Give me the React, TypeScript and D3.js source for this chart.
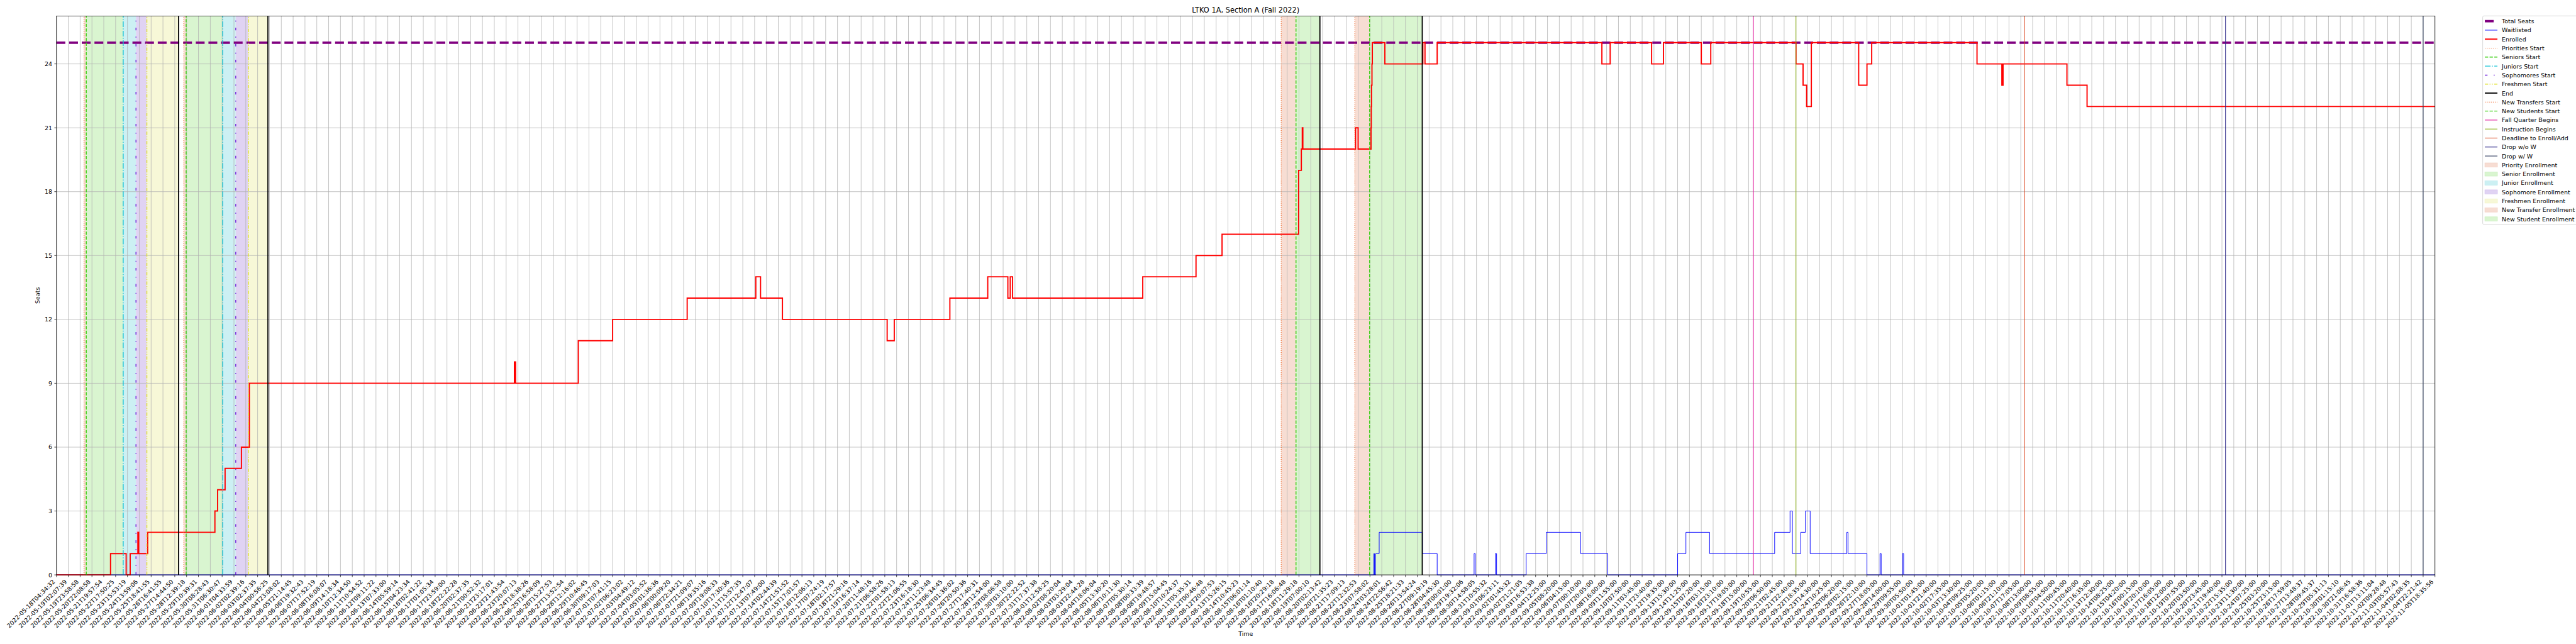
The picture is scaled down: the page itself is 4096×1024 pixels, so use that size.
import React from "react";
import * as d3 from "d3";

// reference is 6000x1500, drawn into 4096x1024 through the viewBox
const W = 6000;
const H = 1500;
const FONT = "'DejaVu Sans', sans-serif";

const title = "LTKO 1A, Section A (Fall 2022)";

// x tick labels (one every N samples), year prefix added when drawn
const tickLabels = [
  "05-18T04:34:32", "05-19T02:07:39", "05-19T23:58:58", "05-20T22:08:58", "05-21T19:57:54",
  "05-22T17:50:25", "05-23T15:53:19", "05-24T13:59:06", "05-25T18:41:55", "05-26T16:41:55",
  "05-27T14:44:50", "05-28T12:39:18", "05-29T10:39:31", "05-30T08:28:43", "05-31T06:30:47",
  "06-01T04:33:59", "06-02T02:39:16", "06-03T02:37:35", "06-04T00:56:25", "06-04T23:08:02",
  "06-05T21:14:45", "06-06T19:32:43", "06-07T17:52:19", "06-08T16:08:07", "06-09T14:18:34",
  "06-10T12:34:50", "06-11T10:54:52", "06-12T09:11:22", "06-13T07:33:00", "06-14T05:59:14",
  "06-15T04:23:34", "06-16T02:41:22", "06-17T01:05:34", "06-17T23:59:00", "06-18T22:22:28",
  "06-20T02:37:35", "06-21T00:52:32", "06-21T23:17:01", "06-22T21:43:54", "06-23T20:07:13",
  "06-24T18:38:26", "06-25T16:58:09", "06-26T15:27:53", "06-27T13:52:54", "06-28T12:16:02",
  "06-29T10:46:45", "06-30T09:17:03", "07-01T07:41:15", "07-02T06:23:02", "07-03T04:49:12",
  "07-04T03:05:52", "07-05T01:36:36", "07-06T00:09:20", "07-06T22:34:21", "07-07T21:09:07",
  "07-08T19:35:16", "07-09T19:08:33", "07-10T17:30:36", "07-11T15:57:35", "07-12T12:47:07",
  "07-13T07:49:00", "07-14T02:44:39", "07-14T21:51:52", "07-15T17:01:57", "07-16T12:06:13",
  "07-17T07:24:19", "07-18T02:17:57", "07-18T21:29:16", "07-19T16:37:14", "07-20T11:48:16",
  "07-21T06:58:26", "07-22T01:58:13", "07-22T21:06:55", "07-23T16:18:30", "07-24T11:23:48",
  "07-25T06:34:45", "07-26T01:36:02", "07-26T20:50:36", "07-27T17:40:31", "07-28T12:54:00",
  "07-29T08:06:58", "07-30T03:10:00", "07-30T22:22:52", "07-31T17:37:38", "08-01T12:58:25",
  "08-02T08:20:04", "08-03T03:29:04", "08-03T22:44:28", "08-04T18:06:04", "08-05T13:30:20",
  "08-06T10:11:30", "08-07T05:30:14", "08-08T00:33:39", "08-08T19:48:57", "08-09T15:04:45",
  "08-10T10:24:37", "08-11T05:35:31", "08-12T00:46:48", "08-12T20:07:53", "08-13T15:26:15",
  "08-14T10:45:23", "08-15T06:01:14", "08-16T01:10:40", "08-16T20:29:18", "08-17T16:06:48",
  "08-18T11:29:18", "08-19T07:00:10", "08-20T02:13:42", "08-20T21:35:23", "08-21T17:09:13",
  "08-22T12:32:53", "08-23T07:58:02", "08-24T03:28:01", "08-24T22:56:42", "08-25T18:21:33",
  "08-26T13:54:24", "08-27T09:19:19", "08-28T04:45:30", "08-29T00:01:00", "08-29T19:32:06",
  "08-30T14:58:05", "08-31T10:55:32", "09-01T06:23:11", "09-02T01:45:32", "09-02T21:21:05",
  "09-03T16:53:38", "09-04T12:25:00", "09-05T08:20:00", "09-06T04:15:00", "09-07T00:10:00",
  "09-07T20:05:00", "09-08T16:00:00", "09-09T11:55:00", "09-10T07:50:00", "09-11T03:45:00",
  "09-11T23:40:00", "09-12T19:35:00", "09-13T15:30:00", "09-14T11:25:00", "09-15T07:20:00",
  "09-16T03:15:00", "09-16T23:10:00", "09-17T19:05:00", "09-18T15:00:00", "09-19T10:55:00",
  "09-20T06:50:00", "09-21T02:45:00", "09-21T22:40:00", "09-22T18:35:00", "09-23T14:30:00",
  "09-24T10:25:00", "09-25T06:20:00", "09-26T02:15:00", "09-26T22:10:00", "09-27T18:05:00",
  "09-28T14:00:00", "09-29T09:55:00", "09-30T05:50:00", "10-01T01:45:00", "10-01T21:40:00",
  "10-02T17:35:00", "10-03T13:30:00", "10-04T09:25:00", "10-05T05:20:00", "10-06T01:15:00",
  "10-06T21:10:00", "10-07T17:05:00", "10-08T13:00:00", "10-09T08:55:00", "10-10T04:50:00",
  "10-11T00:45:00", "10-11T20:40:00", "10-12T16:35:00", "10-13T12:30:00", "10-14T08:25:00",
  "10-15T04:20:00", "10-16T00:15:00", "10-16T20:10:00", "10-17T16:05:00", "10-18T12:00:00",
  "10-19T07:55:00", "10-20T03:50:00", "10-20T23:45:00", "10-21T19:40:00", "10-22T15:35:00",
  "10-23T11:30:00", "10-24T07:25:00", "10-25T03:20:00", "10-25T23:15:00", "10-26T17:59:05",
  "10-27T13:48:37", "10-28T09:45:37", "10-29T05:31:13", "10-30T01:15:10", "10-30T21:06:45",
  "10-31T16:58:36", "11-01T13:11:04", "11-02T09:28:48", "11-03T05:57:43", "11-04T02:08:35",
  "11-04T22:21:42", "11-05T18:35:56",
];

const yTicks = [0, 3, 6, 9, 12, 15, 18, 21, 24];
const totalSeats = 25;

// enrolled: positions in tick units, value from that point on
const enrolledAt = [
  0, 4.57, 5.89, 6.23, 6.88, 6.95, 7.71, 13.39, 13.62, 14.25, 15.63, 16.3,
  38.7, 38.8, 44.1, 47.0, 53.3, 59.1, 59.5, 61.35, 70.2, 70.8, 75.5, 78.7,
  80.4, 80.6, 80.8, 91.8, 96.3, 98.5, 104.97, 105.2, 105.28, 105.33, 109.78, 110.0,
  111.09, 111.11, 111.13, 111.17, 111.2, 112.26, 115.47, 115.65, 116.68,
  130.6, 131.3, 134.8, 135.8, 139.0, 139.8, 147.0, 147.6, 147.9, 148.3,
  152.3, 153.0, 153.4, 162.3, 164.4, 164.5, 169.9, 171.6, 201,
];
const enrolledVal = [
  0, 1, 0, 1, 2, 1, 2, 3, 4, 5, 6, 9,
  10, 9, 11, 12, 13, 14, 13, 12, 11, 12, 13, 14,
  13, 14, 13, 14, 15, 16, 19, 20, 21, 20, 21, 20,
  21, 22, 23, 24, 25, 24, 25, 24, 25,
  24, 25, 24, 25, 24, 25, 24, 23, 22, 25,
  23, 24, 25, 24, 23, 24, 23, 22, 22,
];

// waitlisted
const waitAt = [
  0, 111.33, 111.38, 111.48, 111.78, 115.44, 116.68,
  119.8, 119.9, 121.6, 121.7, 124.2, 125.9, 128.8, 131.1,
  137.0, 137.7, 139.7, 145.2, 146.5, 146.7, 147.4, 147.8, 148.2,
  151.3, 151.4, 153.0, 154.1, 154.2, 156.0, 156.1, 201,
];
const waitVal = [
  0, 1, 0, 1, 2, 1, 0,
  1, 0, 1, 0, 1, 2, 1, 0,
  1, 2, 1, 2, 3, 1, 2, 3, 1,
  2, 1, 0, 1, 0, 1, 0, 0,
];

// event lines (tick units)
const prioritiesStart = [2.33, 10.76];
const seniorsStart = [2.52, 10.96];
const juniorsStart = [5.64, 14.05];
const sophomoresStart = [6.72, 15.15];
const freshmenStart = [7.64, 16.22];
const endLines = [10.32, 17.87, 106.77, 115.42];
const newTransfersStart = [103.5, 109.72];
const newStudentsStart = [104.75, 110.97];
const fallQuarterBegins = [143.4];
const instructionBegins = [147.0];
const deadlineAdd = [166.3];
const dropNoW = [183.3];
const dropW = [200.0];

// shaded periods [from, to]
const priorityBands = [[2.33, 2.52], [10.76, 10.96]];
const seniorBands = [[2.52, 5.64], [10.96, 14.05]];
const juniorBands = [[5.64, 6.72], [14.05, 15.15]];
const sophomoreBands = [[6.72, 7.64], [15.15, 16.22]];
const freshmenBands = [[7.64, 10.32], [16.22, 17.87]];
const transferBands = [[103.5, 104.75], [109.72, 110.97]];
const newStudentBands = [[104.75, 106.77], [110.97, 115.42]];

const lineStyles = [
  { label: "Priorities Start", at: prioritiesStart, color: "#f06a2c", w: 1.7, dash: "1.7,3" },
  { label: "Seniors Start", at: seniorsStart, color: "#3ccf14", w: 2.1, dash: "7.7,3.3" },
  { label: "Juniors Start", at: juniorsStart, color: "#17c3d6", w: 2.1, dash: "13.3,3.3,2.1,3.3" },
  { label: "Sophomores Start", at: sophomoresStart, color: "#7428dc", w: 2.1, dash: "6.2,14.5,2.1,14.5" },
  { label: "Freshmen Start", at: freshmenStart, color: "#e2e232", w: 2.1, dash: "7.7,3.3,2.1,3.3,2.1,3.3" },
  { label: "End", at: endLines, color: "#000000", w: 2.6, dash: "" },
  { label: "New Transfers Start", at: newTransfersStart, color: "#f06a2c", w: 1.7, dash: "1.7,3" },
  { label: "New Students Start", at: newStudentsStart, color: "#3ccf14", w: 2.1, dash: "7.7,3.3" },
  { label: "Fall Quarter Begins", at: fallQuarterBegins, color: "#e0179a", w: 1.6, dash: "" },
  { label: "Instruction Begins", at: instructionBegins, color: "#8db31a", w: 1.6, dash: "" },
  { label: "Deadline to Enroll/Add", at: deadlineAdd, color: "#d9461e", w: 1.6, dash: "" },
  { label: "Drop w/o W", at: dropNoW, color: "#2e2a8a", w: 1.6, dash: "" },
  { label: "Drop w/ W", at: dropW, color: "#2e3a5c", w: 1.6, dash: "" },
];

const bandStyles = [
  { label: "Priority Enrollment", spans: priorityBands, fill: "#f7ddd3", edge: "#f2cfc2" },
  { label: "Senior Enrollment", spans: seniorBands, fill: "#d9f5d0", edge: "#c9efbd" },
  { label: "Junior Enrollment", spans: juniorBands, fill: "#ccf0f3", edge: "#b9e9ee" },
  { label: "Sophomore Enrollment", spans: sophomoreBands, fill: "#e0d3f3", edge: "#d3c1ef" },
  { label: "Freshmen Enrollment", spans: freshmenBands, fill: "#f7f8d7", edge: "#f1f2c3" },
  { label: "New Transfer Enrollment", spans: transferBands, fill: "#f7ddd3", edge: "#f2cfc2" },
  { label: "New Student Enrollment", spans: newStudentBands, fill: "#d9f5d0", edge: "#c9efbd" },
];

const seatsDash = "20.6,8.9";

export default function App() {
  const left = 131.5;
  const right = 5671.5;
  const top = 37.3;
  const bottom = 1339;
  const fs = 13.9;

  const x = d3.scaleLinear().domain([0, tickLabels.length - 1]).range([left, right]);
  const y = d3.scaleLinear().domain([0, totalSeats * 1.05]).range([bottom, top]);

  const step = d3
    .line<[number, number]>()
    .x((d) => x(d[0]))
    .y((d) => y(d[1]))
    .curve(d3.curveStepAfter);

  const enrolled = enrolledAt.map((u, i) => [u, enrolledVal[i]] as [number, number]);
  const waitlisted = waitAt.map((u, i) => [u, waitVal[i]] as [number, number]);

  const tickIdx = d3.range(tickLabels.length);

  // legend
  const legX = 5782.7;
  const legTop = 37;
  const rowH = 20.94;
  const row0 = 49.3;
  const hx0 = 5787.7;
  const hx1 = 5817;
  const tx = 5827.3;
  const legendItems: any[] = [
    { label: "Total Seats", kind: "line", color: "#800080", w: 5.56, dash: seatsDash },
    { label: "Waitlisted", kind: "line", color: "#0000ff", w: 1.4, dash: "" },
    { label: "Enrolled", kind: "line", color: "#ff0000", w: 2.8, dash: "" },
    ...lineStyles.map((l) => ({ label: l.label, kind: "line", color: l.color, w: l.w, dash: l.dash })),
    ...bandStyles.map((b) => ({ label: b.label, kind: "patch", fill: b.fill, edge: b.edge })),
  ];

  return (
    <svg
      width={4096}
      height={1024}
      viewBox={`0 0 ${W} ${H}`}
      style={{ position: "absolute", left: 0, top: 0, background: "#fff" }}
      fontFamily={FONT}
    >
      <rect x={0} y={0} width={W} height={H} fill="#fff" />

      {/* shaded enrollment periods */}
      {bandStyles.map((b) =>
        b.spans.map((s, i) => (
          <rect
            key={b.label + i}
            x={x(s[0])}
            y={top}
            width={x(s[1]) - x(s[0])}
            height={bottom - top}
            fill={b.fill}
          />
        ))
      )}

      {/* grid */}
      {tickIdx.map((i) => (
        <line key={"gx" + i} x1={x(i)} x2={x(i)} y1={top} y2={bottom} stroke="#b0b0b0" strokeWidth={1.1} />
      ))}
      {yTicks.map((t) => (
        <line key={"gy" + t} x1={left} x2={right} y1={y(t)} y2={y(t)} stroke="#b0b0b0" strokeWidth={1.1} />
      ))}

      {/* data */}
      <line
        x1={left}
        x2={right}
        y1={y(totalSeats)}
        y2={y(totalSeats)}
        stroke="#800080"
        strokeWidth={5.56}
        strokeDasharray={seatsDash}
      />
      <path d={step(waitlisted) || ""} fill="none" stroke="#0000ff" strokeWidth={1.4} />
      <path d={step(enrolled) || ""} fill="none" stroke="#ff0000" strokeWidth={2.8} strokeLinejoin="miter" />

      {/* event lines */}
      {lineStyles.map((l) =>
        l.at.map((u, i) => (
          <line
            key={l.label + i}
            x1={x(u)}
            x2={x(u)}
            y1={bottom}
            y2={top}
            stroke={l.color}
            strokeWidth={l.w}
            strokeDasharray={l.dash || undefined}
          />
        ))
      )}

      {/* spines */}
      <rect x={left} y={top} width={right - left} height={bottom - top} fill="none" stroke="#000" strokeWidth={1.1} />

      {/* x ticks */}
      {tickIdx.map((i) => (
        <g key={"xt" + i}>
          <line x1={x(i)} x2={x(i)} y1={bottom} y2={bottom + 4.86} stroke="#000" strokeWidth={1.1} />
          <text
            x={x(i) - 2.4}
            y={bottom + 9.7 + 7.5}
            fontSize={fs}
            textAnchor="end"
            fill="#000"
            transform={`rotate(-45 ${x(i) - 2.4} ${bottom + 9.7 + 7.5})`}
          >
            {"2022-" + tickLabels[i]}
          </text>
        </g>
      ))}

      {/* y ticks */}
      {yTicks.map((t) => (
        <g key={"yt" + t}>
          <line x1={left - 4.86} x2={left} y1={y(t)} y2={y(t)} stroke="#000" strokeWidth={1.1} />
          <text x={left - 9.7} y={y(t)} fontSize={fs} textAnchor="end" dominantBaseline="central" fill="#000">
            {t}
          </text>
        </g>
      ))}

      {/* labels */}
      <text x={(left + right) / 2} y={28.7} fontSize={16.67} textAnchor="middle" fill="#000">
        {title}
      </text>
      <text x={(left + right) / 2} y={1481} fontSize={fs} textAnchor="middle" fill="#000">
        Time
      </text>
      <text
        x={93}
        y={(top + bottom) / 2}
        fontSize={fs}
        textAnchor="middle"
        fill="#000"
        transform={`rotate(-90 93 ${(top + bottom) / 2})`}
      >
        Seats
      </text>

      {/* legend */}
      <rect
        x={legX}
        y={legTop}
        width={300}
        height={row0 + rowH * (legendItems.length - 1) + 13 - legTop}
        rx={3}
        fill="#fff"
        fillOpacity={0.8}
        stroke="#cccccc"
        strokeWidth={1.1}
      />
      {legendItems.map((it, i) => {
        const cy = row0 + rowH * i;
        return (
          <g key={"lg" + i}>
            {it.kind === "line" ? (
              <line
                x1={hx0}
                x2={hx1}
                y1={cy}
                y2={cy}
                stroke={it.color}
                strokeWidth={it.w}
                strokeDasharray={it.dash || undefined}
              />
            ) : (
              <rect x={hx0} y={cy - 4.9} width={hx1 - hx0} height={9.8} fill={it.fill} stroke={it.edge} strokeWidth={1} />
            )}
            <text x={tx} y={cy} fontSize={fs} dominantBaseline="central" fill="#000">
              {it.label}
            </text>
          </g>
        );
      })}
    </svg>
  );
}
